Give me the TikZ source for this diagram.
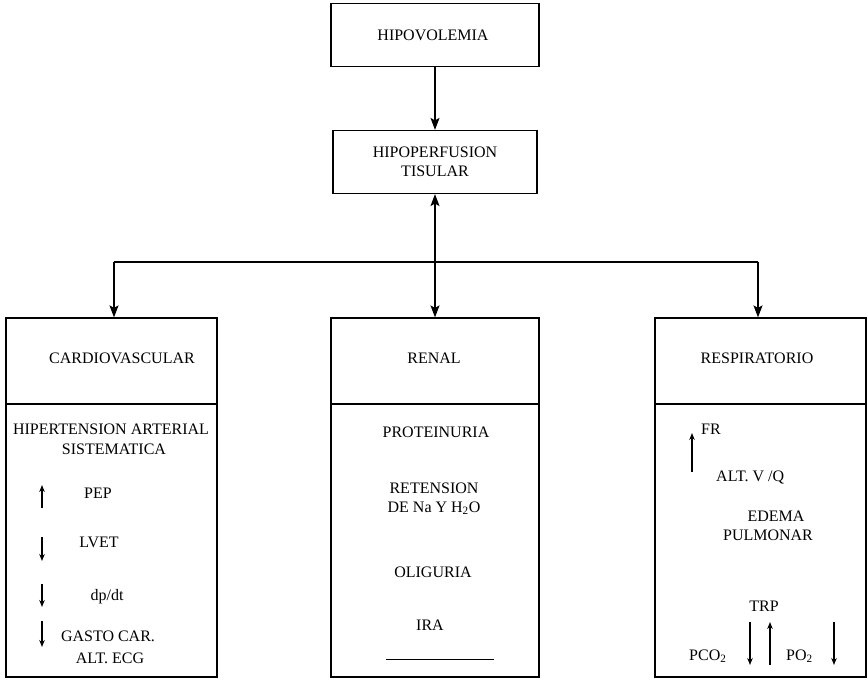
\documentclass[tikz,border=0pt]{standalone}
\usepackage{fontspec}
\setmainfont{Liberation Serif}
\usetikzlibrary{arrows.meta}
\begin{document}
\begin{tikzpicture}[x=1pt,y=-1pt,
  box/.style={draw,line width=1.2pt,inner sep=0pt},
  tip/.tip={Stealth[length=12pt,width=9pt,inset=2.5pt]},
  conn/.style={line width=1.3pt,-tip},
  sym/.style={line width=1.2pt,-{Stealth[length=7pt,width=5.5pt]}},
  txt/.style={inner sep=0pt,font=\fontsize{16}{19}\selectfont,align=center}]
\useasboundingbox (0,0) rectangle (868,682);
% top boxes
\node[box,minimum width=208pt,minimum height=63pt] (hv) at (435,35) {};
\node[txt] (hvt) at (433,35) {HIPOVOLEMIA};
\node[box,minimum width=204pt,minimum height=63pt] (hp) at (435,162) {};
\node[txt] (hpt) at (435,162) {HIPOPERFUSION\\TISULAR};
% lower boxes
\node[box,minimum width=211pt,minimum height=359pt] (cv) at (111.5,497.5) {};
\node[box,minimum width=208pt,minimum height=359pt] (rn) at (435,497.5) {};
\node[box,minimum width=211pt,minimum height=359pt] (rs) at (760.5,497.5) {};
\draw[line width=1.2pt] (cv.west |- 0,404) -- (cv.east |- 0,404);
\draw[line width=1.2pt] (rn.west |- 0,404) -- (rn.east |- 0,404);
\draw[line width=1.2pt] (rs.west |- 0,404) -- (rs.east |- 0,404);
% connectors
\coordinate (busl) at (114,262);
\coordinate (busr) at (758,262);
\draw[conn] (hv.south) -- (hp.north);
\draw[conn,tip-tip] (hp.south) -- (rn.north);
\draw[line width=1.2pt] (busl) -- (busr);
\draw[conn] (busl) -- (busl |- cv.north);
\draw[conn] (busr) -- (busr |- rs.north);
% cardiovascular
\node[txt] (cvh) at (122,358) {CARDIOVASCULAR};
\node[txt] (cv1) at (111,429) {HIPERTENSION ARTERIAL};
\node[txt] (cv2) at (114,449) {SISTEMATICA};
\node[txt] (cv3) at (98,493) {PEP};
\node[txt] (cv4) at (99,542) {LVET};
\node[txt] (cv5) at (107,597) {dp/dt};
\node[txt] (cv6) at (108,636) {GASTO CAR.};
\node[txt] (cv7) at (110,658) {ALT. ECG};
\draw[sym] (42,508) -- (42,485);
\draw[sym] (42,537) -- (42,561);
\draw[sym] (42,584) -- (42,607);
\draw[sym] (42,621) -- (42,647);
% renal
\node[txt] (rnh) at (434,358) {RENAL};
\node[txt] (rn1) at (436,432) {PROTEINURIA};
\node[txt] (rn2) at (434,488) {RETENSION};
\node[txt] (rn3) at (434,508) {DE Na Y H\textsubscript{2}O};
\node[txt] (rn4) at (433,572) {OLIGURIA};
\node[txt] (rn5) at (430,625) {IRA};
\draw[line width=1pt] (386,659) -- (494,659);
% respiratorio
\node[txt] (rsh) at (757,358) {RESPIRATORIO};
\node[txt,anchor=west] (rs1) at (701,429) {FR};
\node[txt,anchor=west] (rs2) at (716,477) {ALT. V /Q};
\node[txt] (rs3) at (776,516) {EDEMA};
\node[txt] (rs4) at (768,535) {PULMONAR};
\node[txt] (rs5) at (764,606) {TRP};
\node[txt,anchor=west] (rs6) at (689,656) {PCO\textsubscript{2}};
\node[txt,anchor=west] (rs7) at (786,656) {PO\textsubscript{2}};
\draw[sym] (692,472) -- (692,433);
\draw[sym] (750,622) -- (750,665);
\draw[sym] (770,665) -- (770,622);
\draw[sym] (834,622) -- (834,665);
\end{tikzpicture}
\end{document}
